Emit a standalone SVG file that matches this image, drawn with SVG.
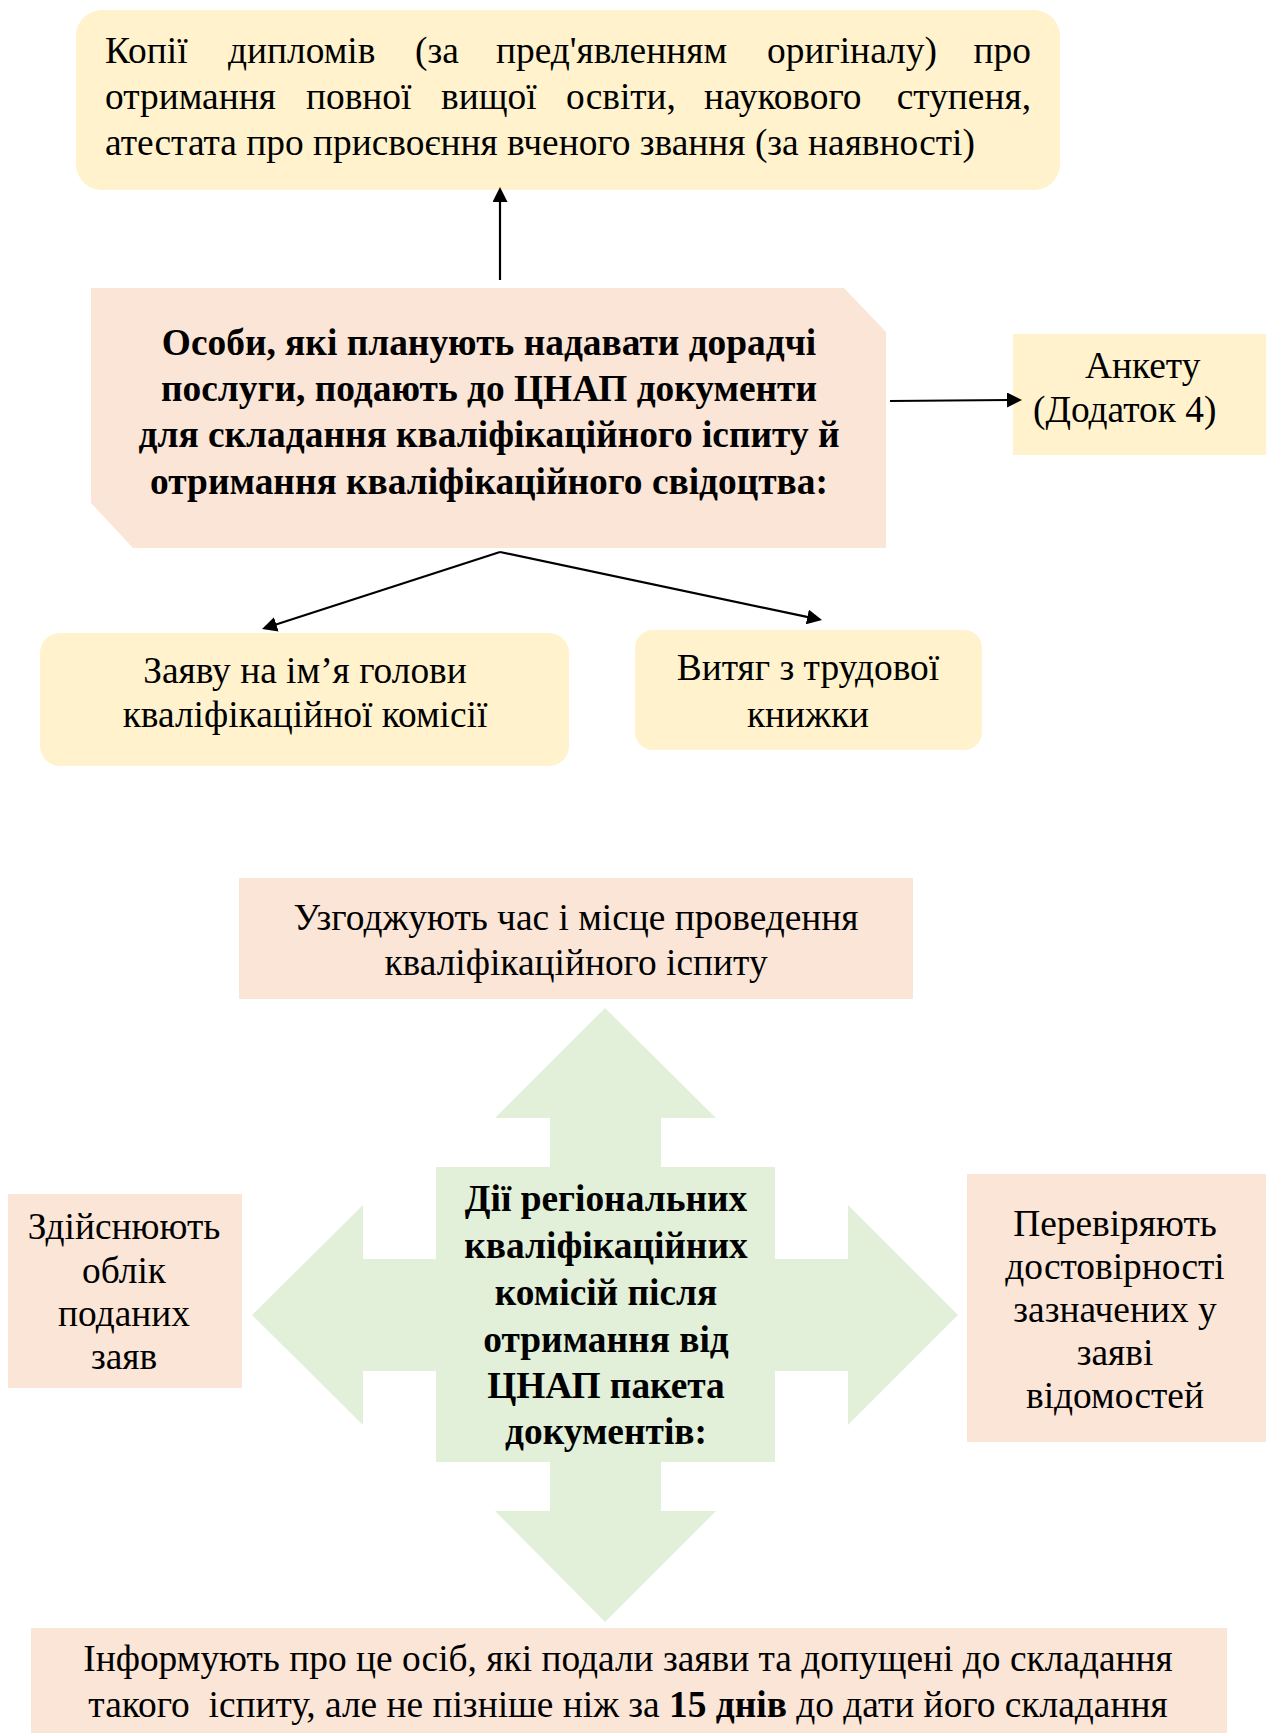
<svg xmlns="http://www.w3.org/2000/svg" width="1266" height="1733" viewBox="0 0 1266 1733">
<defs>
<style>
text{font-family:"Liberation Serif","Times New Roman",serif;font-size:37.4px;fill:#000;}
.b{font-weight:bold;}
.c{text-anchor:middle;}
.e{text-anchor:end;}
.yel{fill:#FFF2CC;}
.pink{fill:#FBE5D6;}
.grn{fill:#E2F0D9;}
.ln{stroke:#000;stroke-width:2.2;fill:none;marker-end:url(#ah);}
</style>
<marker id="ah" viewBox="0 0 15 15" refX="2" refY="7.5" markerWidth="15" markerHeight="15" markerUnits="userSpaceOnUse" orient="auto"><path d="M0,0 L15,7.5 L0,15 z" fill="#000"/></marker>
</defs>
<rect width="1266" height="1733" fill="#fff"/>

<g id="copies">
<rect class="yel" x="76" y="10" width="984" height="180" rx="26" ry="26"/>
<text x="105" y="63">Копії</text>
<text x="228" y="63">дипломів</text>
<text x="415" y="63">(за</text>
<text x="496" y="63">пред'явленням</text>
<text x="767" y="63">оригіналу)</text>
<text class="e" x="1031" y="63">про</text>
<text x="105" y="109">отримання</text>
<text x="306" y="109">повної</text>
<text x="441" y="109">вищої</text>
<text x="566" y="109">освіти,</text>
<text x="704" y="109">наукового</text>
<text class="e" x="1031" y="109">ступеня,</text>
<text x="105" y="155">атестата про присвоєння вченого звання (за наявності)</text>
</g>

<g id="persons">
<path class="pink" d="M91,288 L844,288 L886,332 L886,548 L133,548 L91,503 Z"/>
<text class="b c" x="489" y="355">Особи, які планують надавати дорадчі</text>
<text class="b c" x="489" y="401">послуги, подають до ЦНАП документи</text>
<text class="b c" x="489" y="447">для складання кваліфікаційного іспиту й</text>
<text class="b c" x="489" y="494">отримання кваліфікаційного свідоцтва:</text>
</g>

<g id="anketa">
<rect class="yel" x="1013" y="334" width="253" height="121"/>
<text x="1085" y="378">Анкету</text>
<text x="1033" y="422">(Додаток 4)</text>
</g>

<g id="zaiava">
<rect class="yel" x="40" y="633" width="529" height="133" rx="20" ry="20"/>
<text class="c" x="305" y="683">Заяву на ім’я голови</text>
<text class="c" x="305" y="727">кваліфікаційної комісії</text>
</g>

<g id="vytiah">
<rect class="yel" x="635" y="630" width="347" height="120" rx="18" ry="18"/>
<text class="c" x="808" y="680" fill="#262626">Витяг з трудової</text>
<text class="c" x="808" y="727" fill="#262626">книжки</text>
</g>

<g id="connectors">
<line class="ln" x1="500" y1="280" x2="500" y2="200"/>
<line class="ln" x1="890" y1="401" x2="1009" y2="400"/>
<line class="ln" x1="500" y1="552" x2="274.4" y2="625"/>
<line class="ln" x1="500" y1="552" x2="809.3" y2="617.4"/>
</g>

<g id="agree">
<rect class="pink" x="239" y="878" width="674" height="121"/>
<text class="c" x="576" y="930">Узгоджують час і місце проведення</text>
<text class="c" x="576" y="975">кваліфікаційного іспиту</text>
</g>

<g id="cross">
<polygon class="grn" points="605,1008 716,1118 661,1118 661,1259 848,1259 848,1205 958,1315 848,1425 848,1371 661,1371 661,1511 716,1511 605,1622 495,1511 550,1511 550,1371 363,1371 363,1425 252,1315 363,1205 363,1259 550,1259 550,1118 495,1118"/>
<rect class="grn" x="436" y="1167" width="339" height="295"/>
<text class="b c" x="606" y="1211">Дії регіональних</text>
<text class="b c" x="606" y="1258">кваліфікаційних</text>
<text class="b c" x="606" y="1305">комісій після</text>
<text class="b c" x="606" y="1352">отримання від</text>
<text class="b c" x="606" y="1398">ЦНАП пакета</text>
<text class="b c" x="606" y="1444">документів:</text>
</g>

<g id="record">
<rect class="pink" x="8" y="1194" width="234" height="194"/>
<text class="c" x="124" y="1239">Здійснюють</text>
<text class="c" x="124" y="1283">облік</text>
<text class="c" x="124" y="1326">поданих</text>
<text class="c" x="124" y="1369">заяв</text>
</g>

<g id="verify">
<rect class="pink" x="967" y="1174" width="299" height="268"/>
<text class="c" x="1115" y="1236">Перевіряють</text>
<text class="c" x="1115" y="1279">достовірності</text>
<text class="c" x="1115" y="1322">зазначених у</text>
<text class="c" x="1115" y="1365">заяві</text>
<text class="c" x="1115" y="1408">відомостей</text>
</g>

<g id="inform">
<rect class="pink" x="31" y="1628" width="1196" height="105"/>
<text class="c" x="628" y="1671">Інформують про це осіб, які подали заяви та допущені до складання</text>
<text class="c" x="628" y="1717" xml:space="preserve">такого  іспиту, але не пізніше ніж за <tspan class="b">15 днів</tspan> до дати його складання</text>
</g>
</svg>
